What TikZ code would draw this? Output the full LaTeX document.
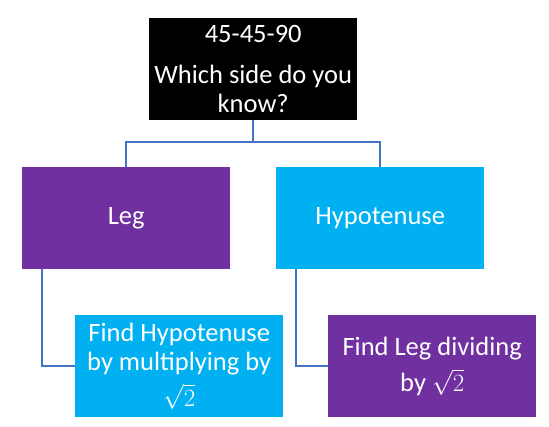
\documentclass[tikz,border=0pt]{standalone}
\usepackage{fontspec}
\setmainfont{Carlito}
\usepackage{xcolor}
\usepackage{tikz}
\usetikzlibrary{calc}
\definecolor{chPurple}{RGB}{112,48,160}
\definecolor{chCyan}{RGB}{0,176,240}
\definecolor{chLine}{RGB}{68,114,196}

\begin{document}
\begin{tikzpicture}[x=1pt,y=-1pt,
  chartbox/.style={anchor=north west,minimum width=208pt,minimum height=102pt,
                   inner sep=0pt,align=center,text=white,
                   font=\fontsize{26.5}{29.5}\selectfont},
  boxP/.style={chartbox,fill=chPurple},
  boxC/.style={chartbox,fill=chCyan},
  conn/.style={draw=chLine,line width=2pt}]
\useasboundingbox[fill=white] (0,0) rectangle (549,427);

% ===== top question =====
\node[chartbox,fill=black] (top) at (149,18)
   {45-45-90\\[11pt]Which side do you\\know?};

% ===== second row =====
\node[boxP] (leg) at (22,167) {Leg};
\node[boxC] (hyp) at (276,167) {Hypotenuse};

% ===== answers =====
\node[boxC] (findhyp) at (75,315)
   {Find Hypotenuse\\by multiplying by\\[6pt]$\sqrt{2}$};
\node[boxP] (findleg) at (328,315)
   {Find Leg dividing\\[7pt]by $\sqrt{2}$};

% connectors, org chart style
\coordinate (split) at ($(top.south)+(0,-22pt)$);
\draw[conn] (top.south) -- (split) -| (leg.north);
\draw[conn] (split) -| (hyp.north);

\coordinate (legdrop) at ($(leg.south west)+(20pt,0)$);
\coordinate (hypdrop) at ($(hyp.south west)+(20pt,0)$);
\draw[conn] (legdrop) |- (findhyp.west);
\draw[conn] (hypdrop) |- (findleg.west);
\end{tikzpicture}
\end{document}
